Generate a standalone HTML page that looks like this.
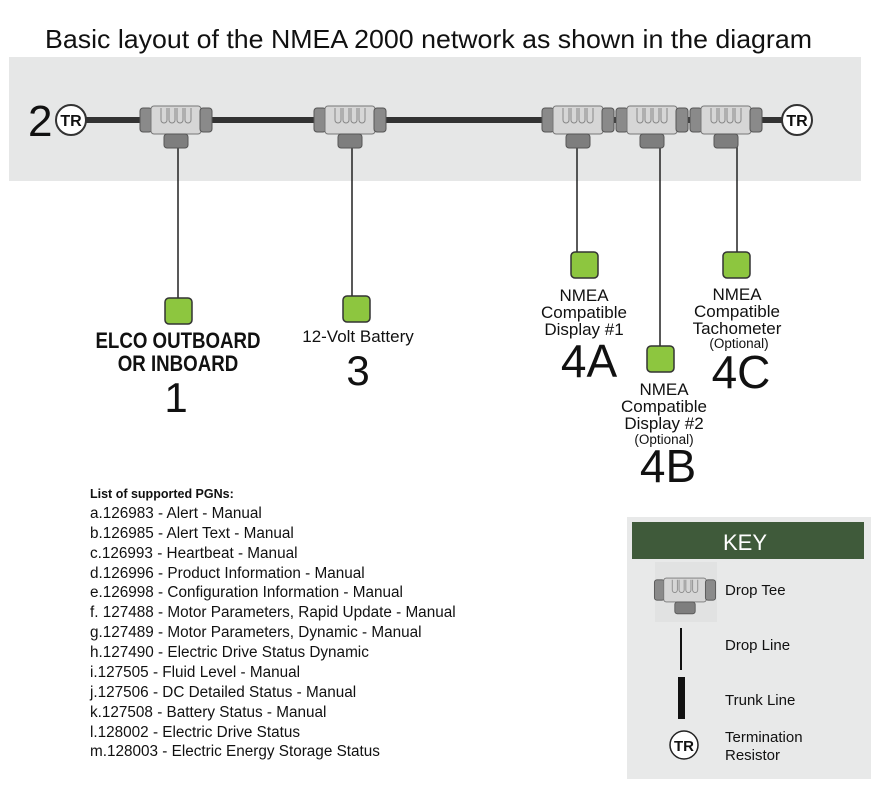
<!DOCTYPE html>
<html><head><meta charset="utf-8"><style>
body{margin:0;background:#fff;}
svg text{font-family:"Liberation Sans",Arial,sans-serif;fill:#111;}
</style></head><body>
<svg width="876" height="789" viewBox="0 0 876 789" xmlns="http://www.w3.org/2000/svg">
<defs>
<g id="tee">
  <rect x="-36" y="-12" width="12" height="24" rx="3" fill="#8a8a8a" stroke="#555" stroke-width="1"/>
  <rect x="-25" y="-14" width="50" height="28" rx="3" fill="#d6d6d6" stroke="#777" stroke-width="1"/>
  <path d="M-15 -12 v12 a3 3 0 0 0 6 0 v-12 M-7 -12 v12 a3 3 0 0 0 6 0 v-12 M1 -12 v12 a3 3 0 0 0 6 0 v-12 M9 -12 v12 a3 3 0 0 0 6 0 v-12" fill="none" stroke="#888" stroke-width="1"/>
  <rect x="24" y="-12" width="12" height="24" rx="3" fill="#8a8a8a" stroke="#555" stroke-width="1"/>
  <rect x="-12" y="14" width="24" height="14" rx="3" fill="#7e7e7e" stroke="#555" stroke-width="1"/>
</g>
<g id="tr">
  <circle r="15" fill="#fff" stroke="#333" stroke-width="2"/>
  <text x="0" y="6" text-anchor="middle" font-size="16" font-weight="bold">TR</text>
</g>
</defs>
<text x="45" y="48" font-size="26" textLength="767" lengthAdjust="spacingAndGlyphs">Basic layout of the NMEA 2000 network as shown in the diagram</text>
<rect x="9" y="57" width="852" height="124" fill="#e6e7e7"/>
<rect x="85" y="117" width="700" height="6" fill="#333"/>
<text x="28" y="136" font-size="44">2</text>
<use href="#tr" x="71" y="120"/>
<use href="#tr" x="797" y="120"/>
<g stroke="#222" stroke-width="1.5">
<line x1="178" y1="145" x2="178" y2="298"/>
<line x1="352" y1="145" x2="352" y2="296"/>
<line x1="577" y1="145" x2="577" y2="252"/>
<line x1="660" y1="145" x2="660" y2="346"/>
<line x1="737" y1="145" x2="737" y2="252"/>
</g>
<use href="#tee" x="176" y="120"/>
<use href="#tee" x="350" y="120"/>
<use href="#tee" x="578" y="120"/>
<use href="#tee" x="652" y="120"/>
<use href="#tee" x="726" y="120"/>
<g fill="#8dc63f" stroke="#333" stroke-width="1.5">
<rect x="165" y="298" width="27" height="26" rx="4"/>
<rect x="343" y="296" width="27" height="26" rx="4"/>
<rect x="571" y="252" width="27" height="26" rx="4"/>
<rect x="647" y="346" width="27" height="26" rx="4"/>
<rect x="723" y="252" width="27" height="26" rx="4"/>
</g>
<text x="178" y="348" font-size="22" font-weight="bold" text-anchor="middle" transform="translate(178,0) scale(0.85,1) translate(-178,0)">ELCO OUTBOARD</text>
<text x="178" y="371" font-size="22" font-weight="bold" text-anchor="middle" transform="translate(178,0) scale(0.85,1) translate(-178,0)">OR INBOARD</text>
<text x="176" y="412" font-size="42" text-anchor="middle">1</text>
<text x="358" y="342" font-size="17" text-anchor="middle">12-Volt Battery</text>
<text x="358" y="385" font-size="42" text-anchor="middle">3</text>
<g font-size="17" text-anchor="middle">
<text x="584" y="301">NMEA</text>
<text x="584" y="318">Compatible</text>
<text x="584" y="335">Display #1</text>
<text x="737" y="300">NMEA</text>
<text x="737" y="317">Compatible</text>
<text x="737" y="334">Tachometer</text>
<text x="664" y="395">NMEA</text>
<text x="664" y="412">Compatible</text>
<text x="664" y="429">Display #2</text>
</g>
<text x="739" y="348" font-size="13.5" text-anchor="middle">(Optional)</text>
<text x="664" y="444" font-size="13.5" text-anchor="middle">(Optional)</text>
<text x="589" y="377" font-size="46" text-anchor="middle">4A</text>
<text x="741" y="388" font-size="46" text-anchor="middle">4C</text>
<text x="668" y="482" font-size="46" text-anchor="middle">4B</text>
<text x="90" y="498" font-size="12.5" font-weight="bold">List of supported PGNs:</text>
<g font-size="15.3">
<text x="90" y="518">a.126983 - Alert - Manual</text>
<text x="90" y="538">b.126985 - Alert Text - Manual</text>
<text x="90" y="558">c.126993 - Heartbeat - Manual</text>
<text x="90" y="578">d.126996 - Product Information - Manual</text>
<text x="90" y="597">e.126998 - Configuration Information - Manual</text>
<text x="90" y="617">f. 127488 - Motor Parameters, Rapid Update - Manual</text>
<text x="90" y="637">g.127489 - Motor Parameters, Dynamic - Manual</text>
<text x="90" y="657">h.127490 - Electric Drive Status Dynamic</text>
<text x="90" y="677">i.127505 - Fluid Level - Manual</text>
<text x="90" y="697">j.127506 - DC Detailed Status - Manual</text>
<text x="90" y="717">k.127508 - Battery Status - Manual</text>
<text x="90" y="737">l.128002 - Electric Drive Status</text>
<text x="90" y="756">m.128003 - Electric Energy Storage Status</text>
</g>
<rect x="627" y="517" width="244" height="262" fill="#e8e9e9"/>
<rect x="632" y="522" width="232" height="37" fill="#3f5a3a"/>
<text x="745" y="550" font-size="22" text-anchor="middle" style="fill:#fff">KEY</text>
<rect x="655" y="562" width="62" height="60" fill="#e1e2e2"/>
<use href="#tee" x="685" y="590" transform="translate(685,590) scale(0.85) translate(-685,-590)"/>
<text x="725" y="595" font-size="15">Drop Tee</text>
<rect x="680" y="628" width="2" height="42" fill="#111"/>
<text x="725" y="650" font-size="15">Drop Line</text>
<rect x="678" y="677" width="7" height="42" fill="#111"/>
<text x="725" y="705" font-size="15">Trunk Line</text>
<circle cx="684" cy="745" r="14" fill="#fff" stroke="#222" stroke-width="1.5"/>
<text x="684" y="751" font-size="15" font-weight="bold" text-anchor="middle">TR</text>
<text x="725" y="742" font-size="15">Termination</text>
<text x="725" y="760" font-size="15">Resistor</text>
</svg>
</body></html>
